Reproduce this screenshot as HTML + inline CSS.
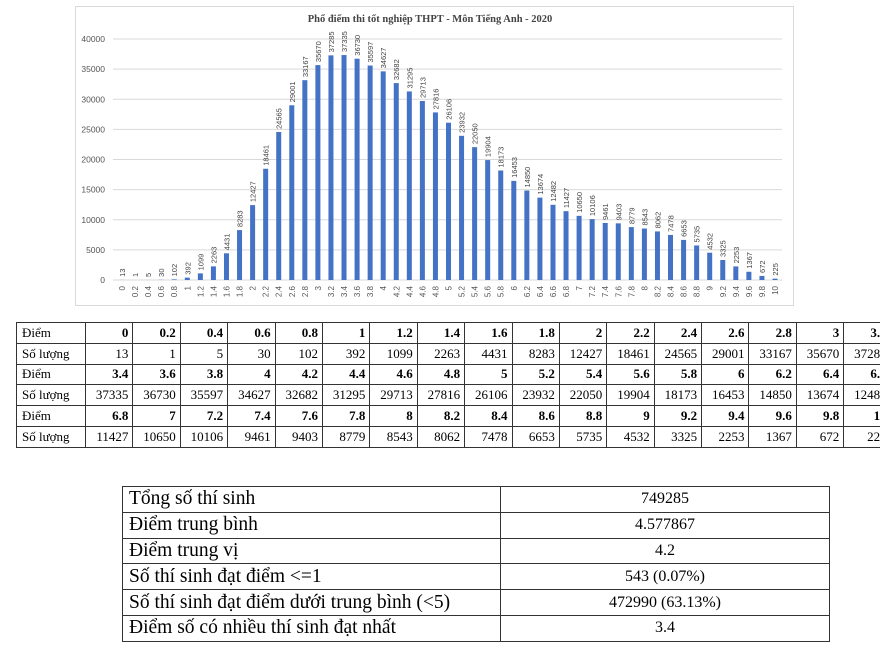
<!DOCTYPE html>
<html><head><meta charset="utf-8">
<style>
body{margin:0;width:880px;height:655px;background:#fff;overflow:hidden;position:relative;font-family:"Liberation Serif",serif;}
#chart{position:absolute;left:0;top:0;}
#tbl{position:absolute;left:0;top:0;width:880px;height:655px;overflow:hidden;}
table.data{position:absolute;left:16px;top:322px;border-collapse:collapse;font-size:13px;table-layout:fixed;width:873px;}
table.data td{border:1px solid #333;height:19.8px;padding:0 4px;text-align:right;width:38.5px;white-space:nowrap;overflow:hidden;}
table.data td.h{text-align:left;width:59px;padding-left:5px;}
table.data tr.b td{font-weight:bold}
table.data tr.b td.h{font-weight:normal}
table.sum{position:absolute;left:122px;top:486px;border-collapse:collapse;width:708px;}
table.sum td{border:1px solid #333;height:24.8px;padding:0 6px;}
table.sum td.l{font-size:19.5px;width:365px;}
table.sum td.r{font-size:16px;text-align:center;}
</style></head><body>
<svg id="chart" width="880" height="315"></svg>
<div id="tbl"></div>
<table class="sum">
<tr><td class="l">Tổng số thí sinh</td><td class="r">749285</td></tr>
<tr><td class="l">Điểm trung bình</td><td class="r">4.577867</td></tr>
<tr><td class="l">Điểm trung vị</td><td class="r">4.2</td></tr>
<tr><td class="l">Số thí sinh đạt điểm &lt;=1</td><td class="r">543 (0.07%)</td></tr>
<tr><td class="l">Số thí sinh đạt điểm dưới trung bình (&lt;5)</td><td class="r">472990 (63.13%)</td></tr>
<tr><td class="l">Điểm số có nhiều thí sinh đạt nhất</td><td class="r">3.4</td></tr>
</table>
<script>
const categories=["0","0.2","0.4","0.6","0.8","1","1.2","1.4","1.6","1.8","2","2.2","2.4","2.6","2.8","3","3.2","3.4","3.6","3.8","4","4.2","4.4","4.6","4.8","5","5.2","5.4","5.6","5.8","6","6.2","6.4","6.6","6.8","7","7.2","7.4","7.6","7.8","8","8.2","8.4","8.6","8.8","9","9.2","9.4","9.6","9.8","10"];
const counts=[13,1,5,30,102,392,1099,2263,4431,8283,12427,18461,24565,29001,33167,35670,37285,37335,36730,35597,34627,32682,31295,29713,27816,26106,23932,22050,19904,18173,16453,14850,13674,12482,11427,10650,10106,9461,9403,8779,8543,8062,7478,6653,5735,4532,3325,2253,1367,672,225];
const yTicks=[0,5000,10000,15000,20000,25000,30000,35000,40000];
const NS="http://www.w3.org/2000/svg";
const svg=document.getElementById('chart');
const y=v=>280-v*241/40000;
const x=i=>122+i*13.06;
function mk(t,a,p){const e=document.createElementNS(NS,t);for(const k in a)e.setAttribute(k,a[k]);(p||svg).appendChild(e);return e;}
const frame=mk('rect',{x:75.5,y:6.5,width:718,height:299,fill:'none',stroke:'#d9d9d9'});


const title=mk('text',{x:430,y:22,'text-anchor':'middle','font-size':'10.5','font-weight':'bold',fill:'#444','font-family':'Liberation Serif,serif'});
title.textContent='Phổ điểm thi tốt nghiệp THPT - Môn Tiếng Anh - 2020';


yTicks.forEach(t=>{
 const g=mk('line',{x1:113,x2:782,y1:y(t),y2:y(t),stroke:'#d9d9d9'});
 
 
 const l=mk('text',{x:105,y:y(t)+3,'text-anchor':'end','font-size':'8.5',fill:'#555','font-family':'Liberation Sans,sans-serif'});
 l.textContent=t;
 
 
});
counts.forEach((v,i)=>{
 const b=mk('rect',{x:x(i)-2.5,y:y(v),width:5,height:280-y(v),fill:'#4472c4'});
 
 
 const tx=x(i)+3,ty=y(v)-3;
 const vl=mk('text',{x:tx,y:ty,transform:`rotate(-90 ${tx} ${ty})`,'font-size':'7.5',fill:'#444','font-family':'Liberation Sans,sans-serif'});
 vl.textContent=v;
 
 
 const cx=x(i)+3,cy=286;
 const cl=mk('text',{x:cx,y:cy,transform:`rotate(-90 ${cx} ${cy})`,'text-anchor':'end','font-size':'8',fill:'#555','font-family':'Liberation Sans,sans-serif'});
 cl.textContent=categories[i];
 
 
});
let h='<table class="data"><colgroup><col style="width:69px">';
for(let i=0;i<17;i++)h+='<col style="width:47.4px">';
h+='</colgroup>';
for(let r=0;r<3;r++){
 const s=r*17;
 h+='<tr class="b"><td class="h">Điểm</td>';
 for(let i=s;i<s+17;i++)h+='<td>'+categories[i]+'</td>';
 h+='</tr><tr><td class="h">Số lượng</td>';
 for(let i=s;i<s+17;i++)h+='<td>'+counts[i]+'</td>';
 h+='</tr>';
}
h+='</table>';
document.getElementById('tbl').innerHTML=h;
</script>
</body></html>
